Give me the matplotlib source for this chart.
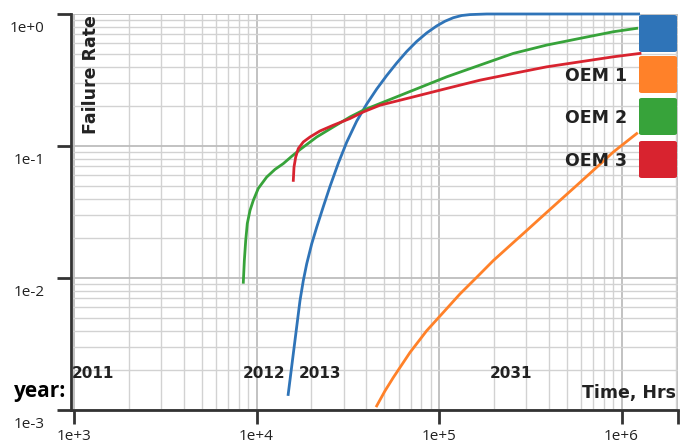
import matplotlib
matplotlib.use("Agg")
import matplotlib.pyplot as plt
import matplotlib.transforms as mtransforms
from matplotlib.ticker import FixedLocator, LogLocator, NullFormatter
from matplotlib.patches import FancyBboxPatch

# curves: time (hrs) vs failure rate
blue_t = [14880, 17310, 18050, 18840, 20070, 21380, 23230, 25270, 28070, 31210, 35400,
          40160, 45560, 51700, 58660, 66530, 75460, 85620, 97140, 107900,
          119800, 133200, 147900, 182500, 1.263e6]
blue_f = [0.00128, 0.00674, 0.00956, 0.0128, 0.01815, 0.02427, 0.03472, 0.04935, 0.07405,
          0.1069, 0.1543, 0.2077, 0.27, 0.3419, 0.4253, 0.52, 0.6194, 0.7185, 0.8122,
          0.8817, 0.9374, 0.974, 0.9896, 1.0, 1.0]

oem1_t = [45560, 50590, 56180, 69360, 85620, 105600, 130300, 160900, 198400, 244900,
          302400, 372800, 460300, 568300, 700700, 902000, 1.211e6]
oem1_f = [0.001074, 0.001396, 0.001762, 0.002729, 0.003987, 0.00549, 0.007573, 0.01012,
          0.01355, 0.01762, 0.0229, 0.02977, 0.0387, 0.0503, 0.06538, 0.09005, 0.1242]

oem2_t = [8467, 8578, 8727, 8904, 9213, 9605, 10230, 11370, 12630, 14020, 15590, 17310,
          21380, 26350, 32540, 38480, 47500, 72320, 110200, 167800, 255400, 389100,
          592500, 902000, 1.211e6]
oem2_f = [0.00928, 0.01355, 0.01923, 0.02588, 0.03249, 0.03873, 0.04775, 0.05815, 0.06652,
          0.07353, 0.08353, 0.09391, 0.117, 0.1394, 0.166, 0.1867, 0.2099, 0.2648, 0.3342,
          0.4101, 0.5029, 0.5815, 0.6538, 0.7338, 0.7787]

oem3_t = [15910, 16050, 16400, 16940, 18050, 19640, 22280, 26350, 32540, 38480, 47500,
          72320, 110200, 167800, 255400, 389100, 592500, 902000, 1.263e6]
oem3_f = [0.0549, 0.0692, 0.0825, 0.0956, 0.1073, 0.117, 0.13, 0.1437, 0.1615, 0.1812,
          0.2037, 0.2355, 0.2728, 0.3153, 0.3546, 0.3979, 0.4343, 0.4739, 0.5029]

legend_labels = ["", "OEM 1", "OEM 2", "OEM 3"]
year_labels = ["2011", "2012", "2013", "2031"]
xtick_vals = [1e3, 1e4, 1e5, 1e6]
xtick_labels = ["1e+3", "1e+4", "1e+5", "1e+6"]
ytick_vals = [1e-3, 1e-2, 1e-1, 1e0]
ytick_labels = ["1e-3", "1e-2", "1e-1", "1e+0"]

colors = ["#2f74b8", "#ff8129", "#37a33a", "#d8232f"]

W, H = 688, 446
fig = plt.figure(figsize=(W / 100, H / 100), dpi=100)
ax = fig.add_axes([71 / W, 1 - 410 / H, (678 - 71) / W, (410 - 14) / H])

xmin, xmax = 10 ** (3 - 3 / 182.5), 10 ** (3 + 604 / 182.5)
ax.set_xscale("log")
ax.set_yscale("log")
ax.set_xlim(xmin, xmax)
ax.set_ylim(1e-3, 1.0)

# grid
ax.xaxis.set_minor_locator(LogLocator(base=10, subs=range(2, 10)))
ax.yaxis.set_minor_locator(LogLocator(base=10, subs=range(2, 10)))
ax.xaxis.set_minor_formatter(NullFormatter())
ax.yaxis.set_minor_formatter(NullFormatter())
ax.grid(which="major", color="#bdbdbd", lw=1.3)
ax.grid(which="minor", color="#d2d2d2", lw=1.0)
ax.set_axisbelow(True)

lw = 2.0
ax.plot(blue_t, blue_f, color=colors[0], lw=lw, clip_on=False, solid_capstyle="butt")
ax.plot(oem1_t, oem1_f, color=colors[1], lw=lw)
ax.plot(oem2_t, oem2_f, color=colors[2], lw=lw)
ax.plot(oem3_t, oem3_f, color=colors[3], lw=lw)

# axes/ticks
for s in ["top", "right"]:
    ax.spines[s].set_visible(False)
for s in ["left", "bottom"]:
    ax.spines[s].set_color("#333333")
    ax.spines[s].set_linewidth(2.0)
ax.xaxis.set_major_locator(FixedLocator(xtick_vals + [xmax]))
ax.set_xticklabels(xtick_labels + [""])
ax.yaxis.set_major_locator(FixedLocator(ytick_vals))
ax.set_yticklabels(ytick_labels)
ax.tick_params(which="major", length=10, width=2.0, color="#333333",
               labelsize=11, labelcolor="#222222")
ax.tick_params(axis="x", which="major", pad=4)
ax.tick_params(axis="y", which="major", pad=9)
ax.tick_params(which="minor", length=0)
for lab in ax.get_xticklabels() + ax.get_yticklabels():
    lab.set_family("Open Sans")
off = mtransforms.ScaledTranslation(0, -0.13, fig.dpi_scale_trans)
for lab in ax.get_yticklabels():
    lab.set_transform(lab.get_transform() + off)


def px(x, y):
    return x / W, 1 - y / H


# legend squares and labels
sq_top = [15, 56, 98, 141]
for i, c in enumerate(colors):
    x0, y0 = px(639, sq_top[i] + 37)
    fig.patches.append(FancyBboxPatch((x0, y0), 38 / W, 37 / H,
                                      boxstyle="round,pad=0,rounding_size=0.004",
                                      transform=fig.transFigure, fc=c, ec="none"))
    if legend_labels[i]:
        fig.text(*px(627, sq_top[i] + 20), legend_labels[i], ha="right", va="center",
                 fontsize=12.5, fontweight="bold", color="#222222", family="DejaVu Sans")

# year markers
year_x = [93, 264, 320, 511]
for lab, xx in zip(year_labels, year_x):
    fig.text(*px(xx, 373), lab, ha="center", va="center", fontsize=11,
             fontweight="bold", color="#222222", family="DejaVu Sans")
fig.text(*px(14, 392), "year:", ha="left", va="center", fontsize=15,
         fontweight="bold", color="black", family="Open Sans")
fig.text(*px(676, 393), "Time, Hrs", ha="right", va="center", fontsize=12.5,
         fontweight="bold", color="#222222", family="DejaVu Sans")
fig.text(*px(91, 15), "Failure Rate", ha="center", va="top", rotation=90,
         fontsize=12.5, fontweight="bold", color="#222222", family="DejaVu Sans")

fig.savefig("out.png", dpi=100)
